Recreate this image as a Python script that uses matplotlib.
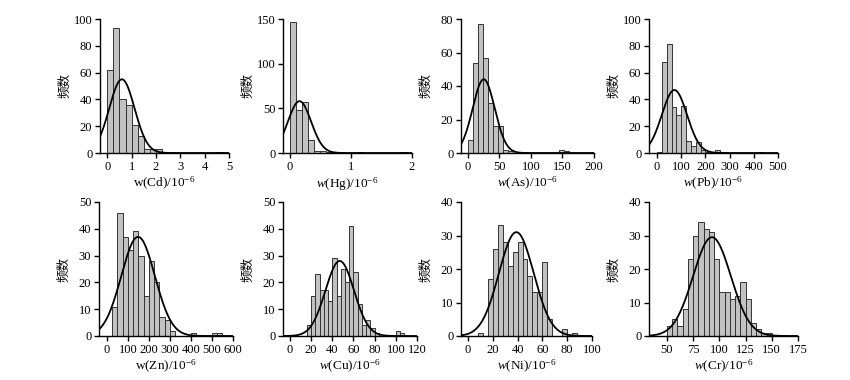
import numpy as np
import matplotlib
matplotlib.use("Agg")
import matplotlib.pyplot as plt

plt.rcParams['font.family'] = ['Liberation Serif', 'Noto Sans CJK SC']
plt.rcParams['mathtext.fontset'] = 'custom'
plt.rcParams['mathtext.rm'] = 'Liberation Serif'
plt.rcParams['mathtext.it'] = 'Liberation Serif:italic'

# ---------------- data (bin left edges, counts, fitted normal params) ----------------
cd_edges = [0, 0.25, 0.5, 0.75, 1.0, 1.25, 1.5, 1.75, 2.0, 2.5, 4.5]
cd_counts = [62, 93, 40, 36, 21, 13, 3, 3, 3, 1, 1]

hg_edges = [0, 0.1, 0.2, 0.3, 0.4, 0.5, 0.6, 1.1, 1.8]
hg_counts = [147, 48, 57, 15, 2, 2, 1, 1, 1]

as_edges = [0, 8, 16, 24, 32, 40, 48, 56, 64, 144, 152]
as_counts = [8, 54, 77, 57, 30, 16, 16, 2, 1, 2, 1]

pb_edges = [0, 20, 40, 60, 80, 100, 120, 140, 160, 180, 200, 240, 420]
pb_counts = [1, 68, 81, 34, 28, 35, 9, 5, 8, 2, 1, 2, 1]

zn_edges = [25, 50, 75, 100, 125, 150, 175, 200, 225, 250, 275, 300, 400, 500, 525]
zn_counts = [11, 46, 37, 32, 39, 30, 15, 28, 20, 7, 6, 2, 1, 1, 1]

cu_edges = [16, 20, 24, 28, 32, 36, 40, 44, 48, 52, 56, 60, 64, 68, 72, 76, 80, 100, 104]
cu_counts = [4, 15, 23, 17, 17, 13, 29, 15, 25, 20, 41, 24, 12, 4, 6, 3, 1, 2, 1]

ni_edges = [8, 16, 20, 24, 28, 32, 36, 40, 44, 48, 52, 56, 60, 64, 76, 84]
ni_counts = [1, 17, 26, 33, 28, 21, 25, 28, 23, 18, 13, 13, 22, 5, 2, 1]

cr_edges = [50, 55, 60, 65, 70, 75, 80, 85, 90, 95, 100, 105, 110, 115, 120, 125, 130, 135, 140, 145]
cr_counts = [3, 5, 3, 8, 23, 30, 34, 32, 31, 23, 13, 13, 11, 12, 16, 11, 4, 2, 1, 1]

bin_widths = [0.25, 0.1, 8, 20, 25, 4, 4, 5]
fit_mean = [0.6, 0.16, 25, 72, 148, 47, 39, 93]
fit_sd = [0.52, 0.19, 17.5, 52, 80, 13.5, 14, 18]
fit_peak = [55, 58, 44, 47, 37, 28, 31, 29.5]

elements = ['Cd', 'Hg', 'As', 'Pb', 'Zn', 'Cu', 'Ni', 'Cr']
italic_w = [False, True, True, True, False, True, True, True]
xlims = [(-0.3, 5), (-0.11, 2), (-11, 200), (-33, 500), (-38, 600), (-6.6, 120), (-5.6, 100), (33, 175)]
xticks = [[0, 1, 2, 3, 4, 5], [0, 1, 2], [0, 50, 100, 150, 200], [0, 100, 200, 300, 400, 500],
          [0, 100, 200, 300, 400, 500, 600], [0, 20, 40, 60, 80, 100, 120],
          [0, 20, 40, 60, 80, 100], [50, 75, 100, 125, 150, 175]]
yticks = [[0, 20, 40, 60, 80, 100], [0, 50, 100, 150], [0, 20, 40, 60, 80], [0, 20, 40, 60, 80, 100],
          [0, 10, 20, 30, 40, 50], [0, 10, 20, 30, 40, 50], [0, 10, 20, 30, 40], [0, 10, 20, 30, 40]]

all_edges = [cd_edges, hg_edges, as_edges, pb_edges, zn_edges, cu_edges, ni_edges, cr_edges]
all_counts = [cd_counts, hg_counts, as_counts, pb_counts, zn_counts, cu_counts, ni_counts, cr_counts]

# ---------------- layout (pixels) ----------------
W, H = 850, 380
boxes = [(100, 19, 129), (283, 19, 129), (461, 19, 133), (649, 19, 129),
         (99, 202, 134), (283, 202, 134), (461, 202, 131), (649, 202, 149)]
AX_H = 134

fig = plt.figure(figsize=(W / 100, H / 100), dpi=100)

for i in range(8):
    x0, y0, w = boxes[i]
    ax = fig.add_axes([x0 / W, 1 - (y0 + AX_H) / H, w / W, AX_H / H])
    ax.bar(all_edges[i], all_counts[i], width=bin_widths[i], align='edge',
           color='#c2c2c2', edgecolor='#333333', linewidth=0.7, zorder=2)
    xs = np.linspace(xlims[i][0], xlims[i][1], 400)
    ys = fit_peak[i] * np.exp(-0.5 * ((xs - fit_mean[i]) / fit_sd[i]) ** 2)
    ax.plot(xs, ys, color='black', linewidth=1.3, zorder=3)
    ax.set_xlim(*xlims[i])
    ax.set_ylim(0, yticks[i][-1])
    ax.set_xticks(xticks[i])
    ax.set_yticks(yticks[i])
    for s in ['top', 'right']:
        ax.spines[s].set_visible(False)
    for s in ['left', 'bottom']:
        ax.spines[s].set_linewidth(1.0)
    ax.tick_params(axis='both', direction='out', length=3.5, width=1.0, labelsize=9, pad=2)
    wsym = r'$w$' if italic_w[i] else 'w'
    ax.set_xlabel(wsym + '(' + elements[i] + ')/10$^{-6}$', fontsize=9.5, labelpad=2)
    ax.set_ylabel('频数', fontsize=9, family=['Noto Sans CJK SC'])
    ax.yaxis.set_label_coords(-29 / w, 0.5)

fig.savefig('out.png', dpi=100)
